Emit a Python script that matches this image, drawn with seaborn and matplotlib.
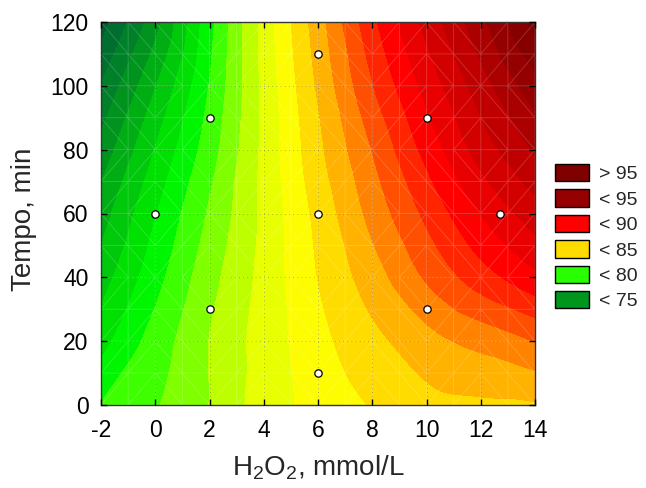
import numpy as np
import pandas as pd
import matplotlib
matplotlib.use("Agg")
import matplotlib.pyplot as plt
import matplotlib.tri as mtri
from matplotlib.patches import Patch
from matplotlib.colors import LinearSegmentedColormap
import seaborn as sns

# ---- data ----
x_grid = [-2, 0, 2, 4, 6, 8, 10, 12, 14]          # H2O2, mmol/L
y_grid = [0, 20, 40, 60, 80, 100, 120]            # Tempo, min
z_y0   = [79.0, 79.9, 81.0, 82.45, 83.35, 84.05, 84.65, 84.8, 84.9]
z_y20  = [77.6, 79.4, 81.0, 82.4, 83.65, 84.7, 85.6, 86.3, 87.0]
z_y40  = [76.5, 78.6, 80.6, 82.3, 84.0, 85.5, 87.1, 88.5, 89.7]
z_y60  = [75.5, 77.9, 80.1, 82.2, 84.27, 86.3, 88.2, 90.0, 91.5]
z_y80  = [74.3, 77.0, 79.5, 82.2, 84.7, 87.0, 89.3, 91.4, 93.1]
z_y100 = [73.0, 75.9, 79.0, 82.2, 85.1, 87.9, 90.3, 92.5, 94.6]
z_y120 = [71.5, 74.6, 78.6, 82.3, 85.5, 88.7, 91.3, 93.7, 96.3]

pts_x = [0, 2, 2, 6, 6, 6, 10, 10, 12.7]
pts_y = [60, 30, 90, 10, 60, 110, 30, 90, 60]

legend_labels = ["> 95", "< 95", "< 90", "< 85", "< 80", "< 75"]
x_ticks = [-2, 0, 2, 4, 6, 8, 10, 12, 14]
y_ticks = [0, 20, 40, 60, 80, 100, 120]

# ---- styles ----
legend_colors = ["#800000", "#960000", "#ff0000", "#ffdc00", "#28ff00", "#00961e"]
anchors = [(71.0, (0, 85, 55)), (73.5, (0, 128, 40)), (74.5, (0, 150, 30)),
           (77.5, (0, 225, 0)), (78.5, (0, 245, 0)), (79.5, (60, 255, 0)),
           (80.5, (130, 255, 0)), (81.5, (190, 255, 0)), (82.5, (230, 255, 0)),
           (83.5, (255, 252, 0)), (84.5, (255, 220, 0)), (85.5, (255, 180, 0)),
           (86.5, (255, 130, 0)), (87.5, (255, 80, 0)), (88.5, (255, 40, 0)),
           (89.5, (255, 0, 0)), (94.5, (150, 0, 0)), (97.5, (105, 0, 0))]
lo, hi = anchors[0][0], anchors[-1][0]
cmap = LinearSegmentedColormap.from_list(
    "stat", [((v - lo) / (hi - lo), tuple(c / 255 for c in col)) for v, col in anchors])
levels = np.arange(70, 99, 1.0)
mids = (levels[:-1] + levels[1:]) / 2
band_colors = [cmap(np.clip((m - lo) / (hi - lo), 0, 1)) for m in mids]

sns.set_style("white")
plt.rcParams["font.family"] = ["Liberation Sans", "DejaVu Sans"]
plt.rcParams["mathtext.fontset"] = "custom"
plt.rcParams["mathtext.rm"] = "Liberation Sans"
plt.rcParams["mathtext.it"] = "Liberation Sans:italic"
plt.rcParams["axes.unicode_minus"] = False

fig = plt.figure(figsize=(6.46, 4.88), dpi=100)
ax = fig.add_axes([101 / 646, 1 - 405 / 488, 434 / 646, 383 / 488])

Z = np.array([z_y0, z_y20, z_y40, z_y60, z_y80, z_y100, z_y120])
X, Y = np.meshgrid(x_grid, y_grid)
tri = mtri.Triangulation(X.ravel(), Y.ravel())
refiner = mtri.UniformTriRefiner(tri)
interp = mtri.CubicTriInterpolator(tri, Z.ravel(), kind="geom")
tri_f, z_f = refiner.refine_field(Z.ravel(), triinterpolator=interp, subdiv=4)
cs = ax.tricontourf(tri_f, z_f, levels=levels, colors=band_colors, extend="both")
cs.set_edgecolor("face")

# faint triangulation mesh, like the reference's surface mesh
mesh = refiner.refine_triangulation(subdiv=1)
ax.triplot(mesh, color="white", lw=0.6, alpha=0.2, zorder=2)
ax.grid(True, color="#555555", lw=0.6, ls=(0, (1, 4)), alpha=0.6, zorder=2)

df = pd.DataFrame({"x": pts_x, "y": pts_y})
sns.scatterplot(data=df, x="x", y="y", ax=ax, s=28, color="white",
                edgecolor="black", linewidth=0.9, zorder=5)

ax.set_xlim(-2, 14)
ax.set_ylim(0, 120)
ax.set_xticks(x_ticks)
ax.set_yticks(y_ticks)
ax.tick_params(direction="in", length=4, width=1, labelsize=16.5, colors="black",
               top=True, right=True, bottom=True, left=True)
ax.tick_params(axis="x", pad=10)
ax.tick_params(axis="y", pad=9)
for s in ax.spines.values():
    s.set_color("#333333")
    s.set_linewidth(1.0)
ax.set_axisbelow(False)

ax.set_xlabel(r"H$_{\mathregular{2}}$O$_{\mathregular{2}}$, mmol/L", fontsize=20, labelpad=8)
ax.set_ylabel("Tempo, min", fontsize=20, labelpad=10)
ax.yaxis.set_label_coords(-0.148, 0.485)

handles = [Patch(facecolor=c, edgecolor="black", linewidth=1.0) for c in legend_colors]
fig.legend(handles, legend_labels, loc="upper left",
           bbox_to_anchor=(555 / 646, 1 - 164 / 488), frameon=False, fontsize=14,
           handlelength=1.75, handleheight=1.0, labelspacing=0.31,
           handletextpad=0.5, borderpad=0, borderaxespad=0)

fig.savefig("out.png", dpi=100)
